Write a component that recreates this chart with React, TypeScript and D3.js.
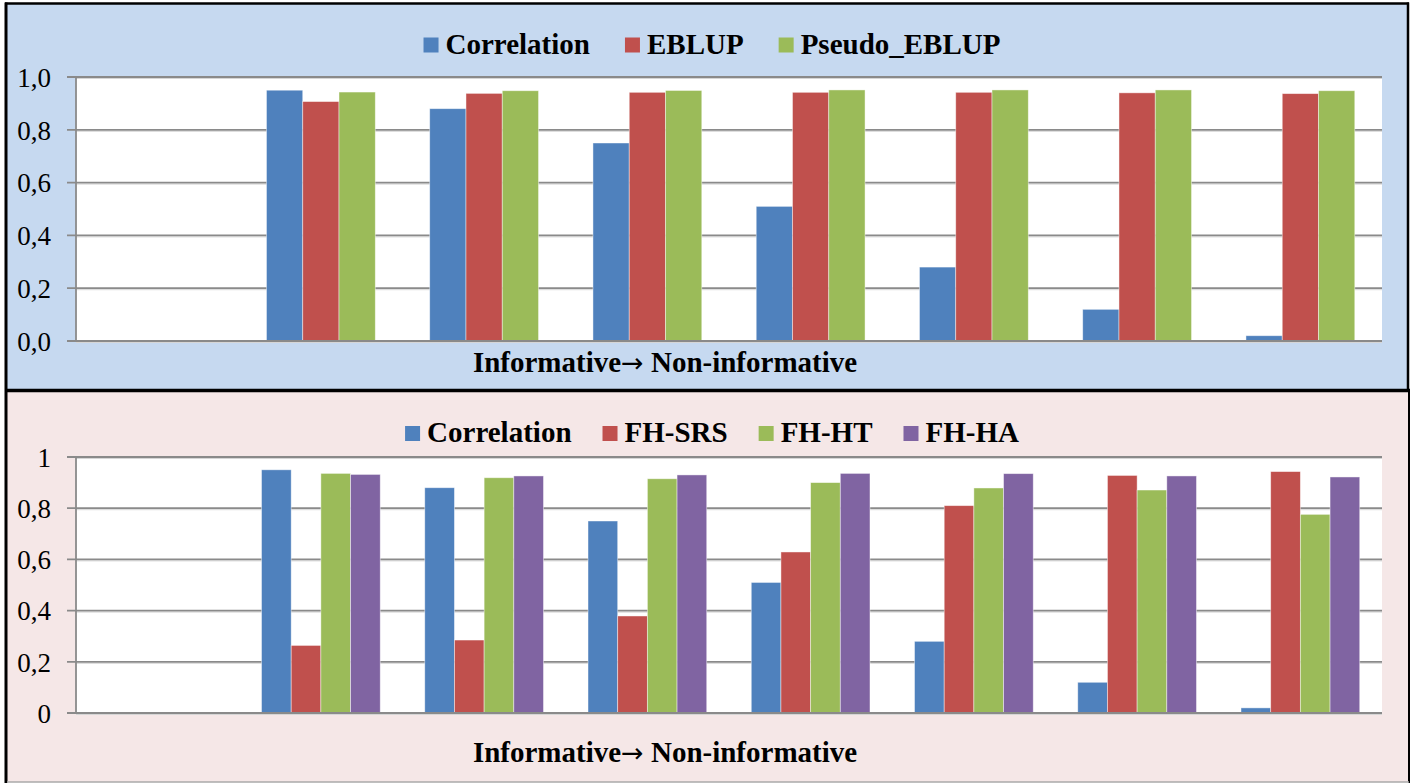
import React, { useEffect, useRef } from "react";
import * as d3 from "d3";

const categories = ["c0", "c1", "c2", "c3", "c4", "c5", "c6", "c7"];

// Top panel
const topSeries = ["Correlation", "EBLUP", "Pseudo_EBLUP"];
const topCorrelation = [null, 0.95, 0.88, 0.75, 0.51, 0.28, 0.12, 0.02];
const topEBLUP = [null, 0.907, 0.938, 0.942, 0.942, 0.942, 0.94, 0.937];
const topPseudo = [null, 0.943, 0.948, 0.949, 0.951, 0.951, 0.951, 0.948];
const topTicks = [0, 0.2, 0.4, 0.6, 0.8, 1.0];
const topTickLabels = ["0,0", "0,2", "0,4", "0,6", "0,8", "1,0"];

// Bottom panel
const botSeries = ["Correlation", "FH-SRS", "FH-HT", "FH-HA"];
const botCorrelation = [null, 0.95, 0.88, 0.75, 0.51, 0.28, 0.12, 0.02];
const botSRS = [null, 0.264, 0.285, 0.379, 0.629, 0.81, 0.928, 0.943];
const botHT = [null, 0.936, 0.919, 0.915, 0.9, 0.879, 0.871, 0.776];
const botHA = [null, 0.932, 0.926, 0.93, 0.936, 0.935, 0.926, 0.922];
const botTicks = [0, 0.2, 0.4, 0.6, 0.8, 1];
const botTickLabels = ["0", "0,2", "0,4", "0,6", "0,8", "1"];

const axisTitleParts = ["Informative", "\u2192", " Non-informative"];

const colors: Record<string, string> = {
  Correlation: "#4F81BD",
  EBLUP: "#C0504D",
  Pseudo_EBLUP: "#9BBB59",
  "FH-SRS": "#C0504D",
  "FH-HT": "#9BBB59",
  "FH-HA": "#8064A2",
};

const FONT = "\"Liberation Serif\", \"Times New Roman\", Times, \"DejaVu Serif\", serif";

export default function App() {
  const ref = useRef<SVGSVGElement>(null);

  useEffect(() => {
    const svg = d3.select(ref.current);
    svg.selectAll("*").remove();

    // Panels
    svg.append("rect").attr("x", 6).attr("y", 3.5).attr("width", 1402).attr("height", 386.5)
      .attr("fill", "#C6D9F0");
    svg.append("rect").attr("x", 6).attr("y", 391).attr("width", 1403).attr("height", 391)
      .attr("fill", "#F5E7E7");
    // borders
    svg.append("line").attr("x1", 5).attr("x2", 1409).attr("y1", 3.5).attr("y2", 3.5)
      .attr("stroke", "#000").attr("stroke-width", 2.5);
    svg.append("line").attr("x1", 6).attr("x2", 6).attr("y1", 2.5).attr("y2", 783)
      .attr("stroke", "#000").attr("stroke-width", 3);
    svg.append("line").attr("x1", 1408).attr("x2", 1408).attr("y1", 2.5).attr("y2", 391)
      .attr("stroke", "#000").attr("stroke-width", 2.5);
    svg.append("line").attr("x1", 1409).attr("x2", 1409).attr("y1", 390).attr("y2", 783)
      .attr("stroke", "#000").attr("stroke-width", 2);
    svg.append("line").attr("x1", 5).attr("x2", 1410).attr("y1", 390.5).attr("y2", 390.5)
      .attr("stroke", "#000").attr("stroke-width", 3.5);
    svg.append("line").attr("x1", 7).attr("x2", 1409).attr("y1", 782).attr("y2", 782)
      .attr("stroke", "#aaa").attr("stroke-width", 1.5);

    function drawChart(opts: {
      top: number; bottom: number; series: string[]; values: (number | null)[][];
      ticks: number[]; tickLabels: string[]; legendY: number; legendGap: number;
      legendCenter: number; titleY: number;
    }) {
      const left = 76, right = 1382;
      const g = svg.append("g");
      const x0 = d3.scaleBand<string>().domain(categories).range([left, right]).paddingInner(0).paddingOuter(0);
      const x1 = d3.scaleBand<string>().domain(opts.series).range([0, x0.bandwidth()])
        .paddingInner(0).paddingOuter(0.75);
      const y = d3.scaleLinear().domain([0, 1]).range([opts.bottom, opts.top]);

      g.append("rect").attr("x", left).attr("y", opts.top).attr("width", right - left)
        .attr("height", opts.bottom - opts.top).attr("fill", "#fff");

      // gridlines
      opts.ticks.forEach((t, i) => {
        const yy = y(t);
        g.append("line").attr("x1", left).attr("x2", right).attr("y1", yy + 1.5).attr("y2", yy + 1.5)
          .attr("stroke", "#d6d6d6").attr("stroke-width", 1);
        g.append("line").attr("x1", left - 9).attr("x2", right).attr("y1", yy).attr("y2", yy)
          .attr("stroke", "#8a8a8a").attr("stroke-width", 1.8);
        g.append("text").attr("x", 51).attr("y", yy).attr("dy", "0.36em")
          .attr("text-anchor", "end").style("font-family", FONT).style("font-size", "27px")
          .attr("fill", "#000").text(opts.tickLabels[i]);
      });
      g.append("line").attr("x1", left).attr("x2", left).attr("y1", opts.top).attr("y2", opts.bottom)
        .attr("stroke", "#8a8a8a").attr("stroke-width", 1.8);

      // bars
      opts.series.forEach((s, si) => {
        const vals = opts.values[si];
        categories.forEach((c, ci) => {
          const v = vals[ci];
          if (v === null || v === undefined) return;
          g.append("rect")
            .attr("x", (x0(c) as number) + (x1(s) as number))
            .attr("y", y(v))
            .attr("width", x1.bandwidth())
            .attr("height", y(0) - y(v))
            .attr("fill", colors[s])
            .attr("stroke", "rgba(255,255,255,0.55)")
            .attr("stroke-width", 0.8);
        });
      });
      // redraw zero baseline on top
      g.append("line").attr("x1", left - 9).attr("x2", right).attr("y1", y(0)).attr("y2", y(0))
        .attr("stroke", "#8a8a8a").attr("stroke-width", 1.8);

      // legend
      const lg = g.append("g");
      let cx = 0;
      const mk = 15, gap = 7;
      opts.series.forEach((s) => {
        lg.append("rect").attr("x", cx).attr("y", opts.legendY - 16).attr("width", mk).attr("height", mk)
          .attr("fill", colors[s]);
        const t = lg.append("text").attr("x", cx + mk + gap).attr("y", opts.legendY)
          .style("font-family", FONT).style("font-size", "29px").style("font-weight", "bold")
          .attr("fill", "#000").text(s);
        const w = (t.node() as SVGTextElement).getComputedTextLength();
        cx += mk + gap + w + opts.legendGap;
      });
      const total = cx - opts.legendGap;
      lg.attr("transform", `translate(${opts.legendCenter - total / 2},0)`);

      const title = g.append("text").attr("x", 665).attr("y", opts.titleY).attr("text-anchor", "middle")
        .style("font-family", FONT).style("font-size", "29px").style("font-weight", "bold")
        .attr("fill", "#000");
      title.append("tspan").text(axisTitleParts[0]);
      title.append("tspan").style("font-family", "\"DejaVu Sans\", sans-serif")
        .style("font-weight", "normal").style("font-size", "27px").text(axisTitleParts[1]);
      title.append("tspan").text(axisTitleParts[2]);
    }

    drawChart({
      top: 77, bottom: 341, series: topSeries,
      values: [topCorrelation, topEBLUP, topPseudo],
      ticks: topTicks, tickLabels: topTickLabels,
      legendY: 53.5, legendGap: 35, legendCenter: 712, titleY: 372,
    });
    drawChart({
      top: 457, bottom: 713, series: botSeries,
      values: [botCorrelation, botSRS, botHT, botHA],
      ticks: botTicks, tickLabels: botTickLabels,
      legendY: 442, legendGap: 31, legendCenter: 712, titleY: 762,
    });
  }, []);

  return (
    <svg
      ref={ref}
      width={1415}
      height={783}
      style={{ position: "absolute", left: 0, top: 0, background: "#fff" }}
    />
  );
}
